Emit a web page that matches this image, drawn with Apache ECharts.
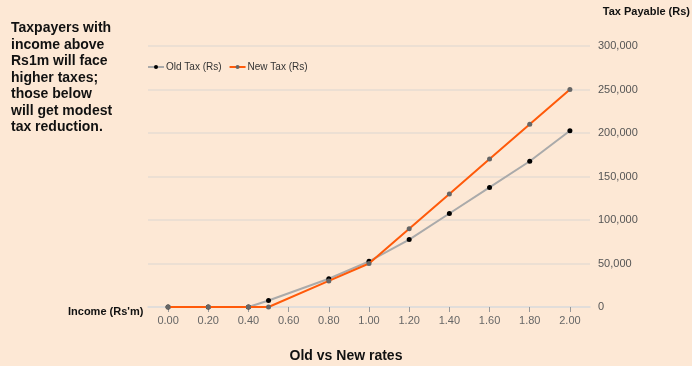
<!DOCTYPE html>
<html><head><meta charset="utf-8">
<script src="https://cdn.jsdelivr.net/npm/echarts@6/dist/echarts.min.js"></script>
<style>html,body{margin:0;padding:0;background:#fde8d5;}#c{width:692px;height:366px;}</style>
</head><body><div id="c"></div>
<script>
const incomes = [0.0, 0.2, 0.4, 0.5, 0.8, 1.0, 1.2, 1.4, 1.6, 1.8, 2.0];
const oldTax = [0, 0, 0, 7500, 32500, 52500, 77500, 107500, 137500, 167500, 202500];
const newTax = [0, 0, 0, 0, 30000, 50000, 90000, 130000, 170000, 210000, 250000];
const xTicks = [0.0, 0.2, 0.4, 0.6, 0.8, 1.0, 1.2, 1.4, 1.6, 1.8, 2.0];
const yTicks = [0, 50000, 100000, 150000, 200000, 250000, 300000];

const chart = echarts.init(document.getElementById('c'));
const font = 'Liberation Sans, Arial, sans-serif';
chart.setOption({
  backgroundColor: '#fde8d5',
  animation: false,
  textStyle: {fontFamily: font},
  title: {
    text: 'Old vs New rates', left: 'center', top: 344,
    textStyle: {fontSize: 14, fontWeight: 'bold', color: '#111', fontFamily: font}
  },
  legend: {
    left: 147, top: 62, padding: 0, itemWidth: 16, itemHeight: 5, itemGap: 7,
    textStyle: {fontSize: 10, color: '#333', fontFamily: font, padding: [0, 0, 0, -3]},
    data: ['Old Tax (Rs)', 'New Tax (Rs)']
  },
  grid: {left: 148, right: 102, top: 46, bottom: 59},
  xAxis: {
    type: 'value', min: -0.1, max: 2.1,
    axisLine: {show: true, lineStyle: {color: '#ddd', width: 1.5}},
    axisTick: {show: true, customValues: xTicks, length: 5, lineStyle: {color: '#999'}},
    axisLabel: {customValues: xTicks, formatter: v => v.toFixed(2), color: '#666', fontSize: 11, margin: 8},
    splitLine: {show: false}
  },
  yAxis: {
    type: 'value', position: 'right', min: 0, max: 300000, interval: 50000,
    axisLine: {show: false}, axisTick: {show: false},
    axisLabel: {color: '#555', fontSize: 11, margin: 8, formatter: v => v.toLocaleString('en-US')},
    splitLine: {lineStyle: {color: '#e6ddd2', width: 1.5}}
  },
  graphic: [
    {type: 'text', left: 11, top: 20, style: {
      text: 'Taxpayers with\nincome above\nRs1m will face\nhigher taxes;\nthose below\nwill get modest\ntax reduction.',
      font: 'bold 14px ' + font, fill: '#111', lineHeight: 16.5}},
    {type: 'text', right: 2, top: 6, style: {text: 'Tax Payable (Rs)', font: 'bold 11px ' + font, fill: '#111'}},
    {type: 'text', left: 68, top: 306, style: {text: "Income (Rs'm)", font: 'bold 11px ' + font, fill: '#111'}}
  ],
  series: [
    {name: 'Old Tax (Rs)', type: 'line', data: incomes.map((x, i) => [x, oldTax[i]]),
     symbol: 'circle', symbolSize: 5, z: 2,
     lineStyle: {color: '#aaaaaa', width: 2}, itemStyle: {color: '#000'}},
    {name: 'New Tax (Rs)', type: 'line', data: incomes.map((x, i) => [x, newTax[i]]),
     symbol: 'circle', symbolSize: 5, z: 3,
     lineStyle: {color: '#ff5a0a', width: 2}, itemStyle: {color: '#666'}}
  ]
});
</script></body></html>
